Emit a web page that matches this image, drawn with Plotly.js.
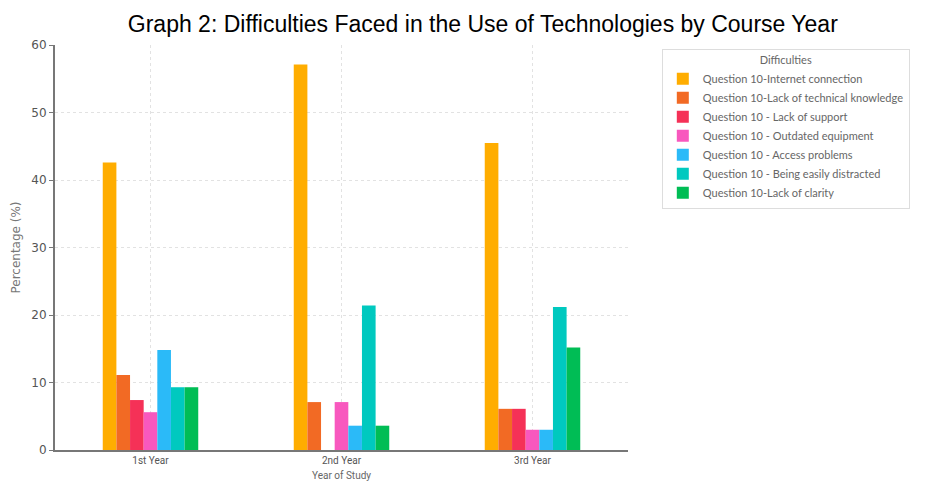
<!DOCTYPE html>
<html>
<head>
<meta charset="utf-8">
<script src="https://cdn.plot.ly/plotly-3.0.1.min.js"></script>
<style>html,body{margin:0;padding:0;background:#fff;}#chart{width:943px;height:481px;}</style>
</head>
<body>
<div id="chart"></div>
<script>
const years = ["1st Year", "2nd Year", "3rd Year"];
const seriesNames = [
  "Question 10-Internet connection",
  "Question 10-Lack of technical knowledge",
  "Question 10 - Lack of support",
  "Question 10 - Outdated equipment",
  "Question 10 - Access problems",
  "Question 10 - Being easily distracted",
  "Question 10-Lack of clarity"
];
const internetConnection = [42.6, 57.1, 45.5];
const lackTechnicalKnowledge = [11.1, 7.1, 6.1];
const lackSupport = [7.4, 0, 6.1];
const outdatedEquipment = [5.6, 7.1, 3.0];
const accessProblems = [14.8, 3.6, 3.0];
const easilyDistracted = [9.3, 21.4, 21.2];
const lackClarity = [9.3, 3.6, 15.2];
const seriesValues = [internetConnection, lackTechnicalKnowledge, lackSupport, outdatedEquipment, accessProblems, easilyDistracted, lackClarity];
const colors = ["#FFAD00", "#F26A24", "#F53157", "#F858BE", "#2BBAF8", "#00C9BF", "#00BD55"];

const traces = seriesNames.map((n, i) => ({
  type: "bar",
  name: n,
  x: years,
  y: seriesValues[i],
  marker: {color: colors[i], line: {width: 0}}
}));

const layout = {
  width: 943, height: 481,
  margin: {l: 55, r: 315, t: 45, b: 31},
  paper_bgcolor: "#fff", plot_bgcolor: "#fff",
  barmode: "group", bargap: 0.5, bargroupgap: 0,
  font: {family: "Open Sans, sans-serif", color: "#555"},
  title: {text: "Graph 2: Difficulties Faced in the Use of Technologies by Course Year",
          font: {family: "Liberation Sans, Arial, sans-serif", size: 23, color: "#000"},
          x: 0.512, xanchor: "center", y: 0.95, yanchor: "middle"},
  xaxis: {
    range: [-0.5, 2.5], showline: true, linecolor: "#777", linewidth: 2,
    showgrid: true, gridcolor: "#e2e2e2", griddash: "dot", gridwidth: 1,
    ticks: "", ticklen: 0,
    tickfont: {family: "Roboto, sans-serif", size: 10, color: "#555"},
    title: {text: "Year of Study", font: {family: "Roboto, sans-serif", size: 10, color: "#666"}, standoff: 7},
    zeroline: false
  },
  yaxis: {
    range: [0, 60], dtick: 10, showline: true, linecolor: "#777", linewidth: 2,
    showgrid: true, gridcolor: "#e2e2e2", griddash: "dot", gridwidth: 1,
    ticks: "outside", ticklen: 4, tickcolor: "#777",
    tickfont: {family: "DejaVu Sans, sans-serif", size: 12, color: "#555"},
    title: {text: "Percentage (%)", font: {family: "DejaVu Sans, sans-serif", size: 12, color: "#777"}, standoff: 8},
    zeroline: false
  },
  showlegend: true,
  legend: {
    x: 1.059, xanchor: "left", y: 0.99, yanchor: "top",
    bgcolor: "#fff", bordercolor: "#ddd", borderwidth: 1,
    font: {family: "Lato, sans-serif", size: 11, color: "#666"},
    title: {text: "Difficulties", side: "top center", font: {family: "Lato, sans-serif", size: 11, color: "#666"}},
    tracegroupgap: 0, itemwidth: 30
  }
};

Plotly.newPlot("chart", traces, layout, {displayModeBar: false, staticPlot: true});
</script>
</body>
</html>
